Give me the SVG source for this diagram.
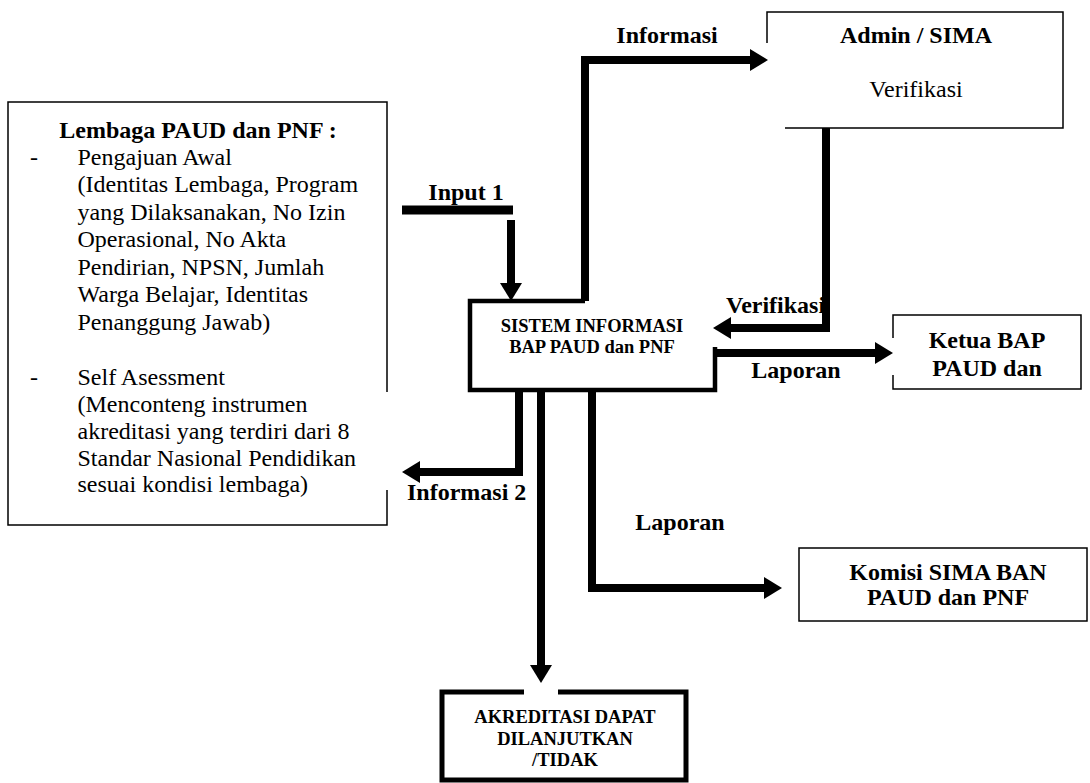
<svg xmlns="http://www.w3.org/2000/svg" width="1090" height="783" viewBox="0 0 1090 783">
<style>
  .b { font-weight: bold; }
  .c { text-anchor: middle; }
  .s { font-size: 18.5px; font-weight: bold; }
  .thin { fill: none; stroke: #000; stroke-width: 1.5; }
  .thick { fill: none; stroke: #000; stroke-width: 4.5; stroke-linejoin: miter; }
  .conn { fill: none; stroke: #000; stroke-width: 8; stroke-linejoin: miter; stroke-linecap: butt; }
</style>
<defs>
  <marker id="ah" markerUnits="userSpaceOnUse" markerWidth="19" markerHeight="22" refX="0" refY="11" orient="auto" overflow="visible">
    <path d="M0,0 L18,11 L0,22 Z" fill="#000"/>
  </marker>
</defs>
<rect width="1090" height="783" fill="#fff"/>
<g font-family="Liberation Serif, serif" font-size="24" fill="#000">
<g id="lembaga">
  <path class="thin" d="M387,392 V102 H8 V525 H387 V490"/>
  <text class="b c" x="198" y="138">Lembaga PAUD dan PNF :</text>
  <text x="30" y="165">-</text>
  <text x="77.5" y="165">Pengajuan Awal</text>
  <text x="77.5" y="192">(Identitas Lembaga, Program</text>
  <text x="77.5" y="219.5">yang Dilaksanakan, No Izin</text>
  <text x="77.5" y="247">Operasional, No Akta</text>
  <text x="77.5" y="274.5">Pendirian, NPSN, Jumlah</text>
  <text x="77.5" y="302">Warga Belajar, Identitas</text>
  <text x="77.5" y="329.5">Penanggung Jawab)</text>
  <text x="30" y="384.5">-</text>
  <text x="77.5" y="384.5">Self Asessment</text>
  <text x="77.5" y="411.5">(Menconteng instrumen</text>
  <text x="77.5" y="438.5">akreditasi yang terdiri dari 8</text>
  <text x="77.5" y="465.5">Standar Nasional Pendidikan</text>
  <text x="77.5" y="492">sesuai kondisi lembaga)</text>
</g>

<g id="sistem">
  <path class="thick" d="M585,301 H470 V390 H715 V347"/>
  <text class="s c" x="592" y="332">SISTEM INFORMASI</text>
  <text class="s c" x="592" y="353">BAP PAUD dan PNF</text>
</g>

<g id="admin">
  <path class="thin" d="M767,43 V12 H1063 V128 H785"/>
  <text class="b c" x="916" y="43">Admin / SIMA</text>
  <text class="c" x="916" y="97">Verifikasi</text>
</g>

<g id="ketua">
  <path class="thin" d="M893,338 V315 H1081 V389 H893 V375"/>
  <text class="b c" x="987" y="348">Ketua BAP</text>
  <text class="b c" x="987" y="376">PAUD dan</text>
</g>

<g id="komisi">
  <rect class="thin" x="799" y="548" width="288" height="73"/>
  <text class="b c" x="948" y="580">Komisi SIMA BAN</text>
  <text class="b c" x="948" y="605">PAUD dan PNF</text>
</g>

<g id="akreditasi">
  <path class="thick" style="stroke-width:5" d="M524,692 H442 V780 H686 V692 H558"/>
  <text class="s c" x="565" y="723">AKREDITASI DAPAT</text>
  <text class="s c" x="565" y="744.5">DILANJUTKAN</text>
  <text class="s c" x="565" y="766">/TIDAK</text>
</g>

<g id="connectors">
  <path class="conn" style="stroke-width:9" d="M402,210 H513"/>
  <path class="conn" d="M511,220 V283" marker-end="url(#ah)"/>
  <path class="conn" d="M585,301 V60 H750" marker-end="url(#ah)"/>
  <path class="conn" d="M826,128 V328 H731" marker-end="url(#ah)"/>
  <path class="conn" d="M715,353 H875" marker-end="url(#ah)"/>
  <path class="conn" d="M519,390 V472 H420" marker-end="url(#ah)"/>
  <path class="conn" d="M541,390 V665" marker-end="url(#ah)"/>
  <path class="conn" d="M592,390 V588 H764" marker-end="url(#ah)"/>
  <text class="b c" x="466" y="200">Input 1</text>
  <text class="b c" x="667" y="43">Informasi</text>
  <text class="b" x="726" y="313">Verifikasi</text>
  <text class="b c" x="796" y="378">Laporan</text>
  <text class="b" x="407" y="500">Informasi 2</text>
  <text class="b c" x="680" y="530">Laporan</text>
</g>
</g>
</svg>
